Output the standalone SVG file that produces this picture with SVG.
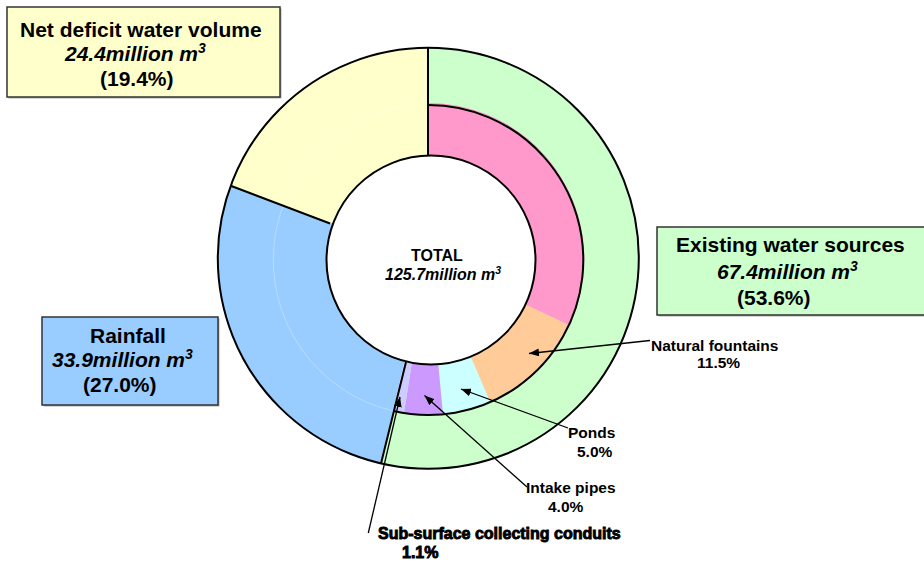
<svg xmlns="http://www.w3.org/2000/svg" width="924" height="563" viewBox="0 0 924 563">
<style>
.t{font-family:"Liberation Sans",Arial,sans-serif;font-weight:bold;fill:#000}
.big{font-size:21px}
.mid{font-size:16px}
.sm{font-size:15.5px}
.it{font-style:italic}
.heavy{font-size:16px;stroke:#000;stroke-width:0.9px}
.edge{fill:none;stroke:#000;stroke-width:2}
.box{stroke:#333;stroke-width:1.5}
.shadow{fill:#b0b0b0}
.conn{fill:none;stroke:#000;stroke-width:1.3}
</style>
<defs>
<marker id="ah" markerUnits="userSpaceOnUse" markerWidth="11" markerHeight="8" refX="10" refY="4" orient="auto">
<path d="M0,0 L10,4 L0,8 Z" fill="#000"/>
</marker>
</defs>
<rect width="924" height="563" fill="#fff"/>
<g id="donut">
<g id="seg-existing"><path d="M428.3,258.3 L428.3,47.8 A210.5,210.5 0 1 1 380.94,463.41 Z" fill="#CCFFCC"/></g>
<g id="seg-rainfall"><path d="M428.3,258.3 L380.94,463.41 A210.5,210.5 0 0 1 230.7,185.76 Z" fill="#99CCFF"/></g>
<g id="seg-deficit"><path d="M428.3,258.3 L230.7,185.76 A210.5,210.5 0 0 1 428.3,47.8 Z" fill="#FFFFCC"/></g>
<g id="seg-other"><path d="M428.3,259 L428.3,103 A156,156 0 0 1 569.45,325.42 Z" fill="#FF99CC"/></g>
<g id="seg-fountains"><path d="M428.3,259 L569.45,325.42 A156,156 0 0 1 490.25,402.18 Z" fill="#FFCC99"/></g>
<g id="seg-ponds"><path d="M428.3,259 L490.25,402.18 A156,156 0 0 1 442.98,414.31 Z" fill="#CCFFFF"/></g>
<g id="seg-intake"><path d="M428.3,259 L442.98,414.31 A156,156 0 0 1 403.9,413.08 Z" fill="#CC99FF"/></g>
<g id="seg-subsurface"><path d="M428.3,259 L403.9,413.08 A156,156 0 0 1 393.2,411.01 Z" fill="#CCCCFF"/></g>
<path d="M393.42,411.03 A155,155 0 0 1 428.3,105" fill="none" stroke="#fff" stroke-opacity="0.3" stroke-width="1"/>
<g id="total">
<circle cx="431" cy="260" r="104.5" fill="#fff" stroke="#000" stroke-width="2"/>
<text class="t mid" x="411" y="261">TOTAL</text>
<text class="t mid it" x="385" y="280">125.7million m<tspan font-size="10.5" dy="-6">3</tspan></text>
</g>
<circle class="edge" cx="428.3" cy="258.3" r="210.5"/>
<path class="edge" d="M428.3,105 A155,155 0 1 1 393.42,411.03"/>
<path class="edge" d="M428,48 L428,156 M406,362 L381,463.5 M230.7,185.8 L330,223.5"/>
</g>
<g id="label-deficit">
<rect class="shadow" x="8.5" y="8.5" width="273" height="90"/>
<rect class="box" x="7" y="7" width="273" height="90" fill="#FFFFCC"/>
<text class="t big" x="20" y="37">Net deficit water volume</text>
<text class="t big it" x="65" y="61">24.4million m<tspan font-size="14" dy="-8">3</tspan></text>
<text class="t big" x="100" y="86">(19.4%)</text>
</g>
<g id="label-existing">
<rect class="shadow" x="658.5" y="228.5" width="280" height="88"/>
<rect class="box" x="657" y="227" width="280" height="88" fill="#CCFFCC"/>
<text class="t big" x="676" y="252">Existing water sources</text>
<text class="t big it" x="717" y="279">67.4million m<tspan font-size="14" dy="-8">3</tspan></text>
<text class="t big" x="737" y="305">(53.6%)</text>
</g>
<g id="label-rainfall">
<rect class="shadow" x="43.5" y="318.5" width="176" height="88"/>
<rect class="box" x="42" y="317" width="176" height="88" fill="#99CCFF"/>
<text class="t big" x="90" y="343">Rainfall</text>
<text class="t big it" x="52" y="367">33.9million m<tspan font-size="14" dy="-8">3</tspan></text>
<text class="t big" x="83" y="392">(27.0%)</text>
</g>
<g id="label-fountains">
<text class="t sm" x="651" y="351">Natural fountains</text>
<text class="t sm" x="697" y="368">11.5%</text>
</g>
<g id="label-ponds">
<text class="t sm" x="568" y="438">Ponds</text>
<text class="t sm" x="577" y="457">5.0%</text>
</g>
<g id="label-intake">
<text class="t sm" x="526" y="493">Intake pipes</text>
<text class="t sm" x="548" y="512">4.0%</text>
</g>
<g id="label-subsurface">
<text class="t heavy" x="378" y="539">Sub-surface collecting conduits</text>
<text class="t heavy" x="402" y="558">1.1%</text>
</g>
<g id="connectors">
<line class="conn" x1="650" y1="340.5" x2="529" y2="353.5" marker-end="url(#ah)"/>
<line class="conn" x1="568" y1="428" x2="461" y2="389" marker-end="url(#ah)"/>
<line class="conn" x1="527" y1="487" x2="424.5" y2="395.5" marker-end="url(#ah)"/>
<line class="conn" x1="368.3" y1="533" x2="400" y2="397" marker-end="url(#ah)"/>
</g>
</svg>
